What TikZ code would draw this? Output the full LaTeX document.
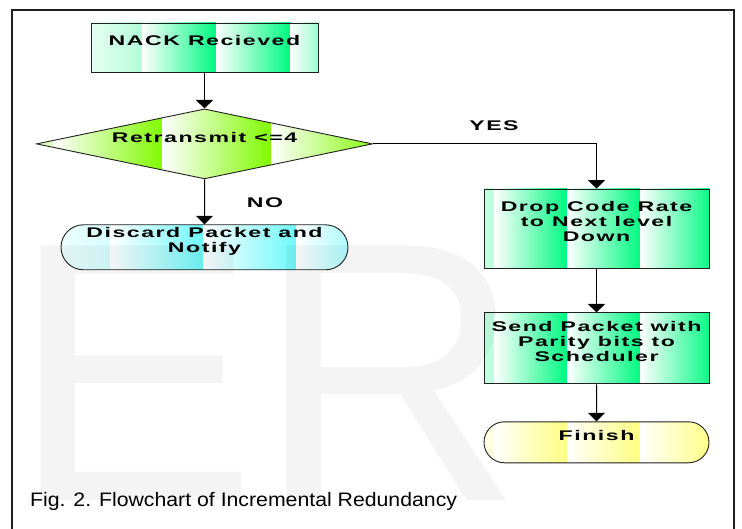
\documentclass[tikz,border=0pt]{standalone}
\usepackage{fontspec}
\setmainfont{Liberation Sans}
\newfontfamily\boxfont[FakeStretch=1.65,LetterSpace=11]{Liberation Sans}
\newfontfamily\capfont[FakeStretch=1.09]{Liberation Sans}
\usepackage{tikz}
\usetikzlibrary{arrows.meta,positioning,shapes.geometric,shapes.misc}
\definecolor{jade}{RGB}{0,250,128}
\definecolor{chart}{RGB}{128,250,0}
\definecolor{aqua}{RGB}{110,248,250}
\definecolor{butter}{RGB}{255,255,128}
\definecolor{ink}{HTML}{202020}
\newcommand{\lift}[1]{\raisebox{4.8pt}[\height][\depth]{\begin{tabular}{@{}c@{}}#1\end{tabular}}}
\tikzset{
  stripes/.style n args={3}{path picture={
    \foreach \k in {0,...,4}
      \shade[left color=white,right color=#1]
        ([xshift={#2+\k*#3}]path picture bounding box.south west) rectangle
        ([xshift={#2+(\k+1)*#3}]path picture bounding box.north west);
  }},
  box/.style={draw=ink,line width=0.9pt,inner sep=0pt,font=\boxfont\bfseries\fontsize{14}{15}\selectfont},
  proc/.style={box,rectangle,minimum width=225pt},
  dec/.style={box,diamond,aspect=4.8,minimum width=336pt,minimum height=70pt},
  term/.style={box,rounded rectangle},
  arr/.style={-{Triangle[length=8.5pt,width=17pt]},line width=1pt,color=black},
  lbl/.style={inner sep=0pt,font=\boxfont\bfseries\fontsize{14}{15}\selectfont},
}
\begin{document}
\begin{tikzpicture}[x=1pt,y=-1pt]
\useasboundingbox (0,0) rectangle (742,529);
\draw[line width=1.2pt,ink] (12,529) -- (12,10) -- (734,10) -- (734,529);
% left column
\node[proc,stripes={jade}{-23}{74},minimum width=227pt,minimum height=49pt] (nack) at (204.5,47.5) {\lift{NACK Recieved}};
\node[dec,stripes={chart}{-92}{109},below=36pt of nack] (retx) {\lift{Retransmit <=4}};
\node[term,stripes={aqua}{-44}{93},minimum width=287pt,minimum height=45pt,below=45pt of retx] (discard) {\lift{Discard Packet and\\Notify}};
% right column
\node[proc,stripes={jade}{-63}{73},minimum height=79pt] (drop) at (596.5,228.5) {\lift{Drop Code Rate\\to Next level\\Down}};
\node[proc,stripes={jade}{-63}{73},minimum height=71pt,below=44pt of drop] (send) {\lift{Send Packet with\\Parity bits to\\Scheduler}};
\node[term,stripes={butter}{-63}{73},minimum width=225pt,minimum height=41pt,below=37pt of send] (finish) {\lift{Finish}};
\draw[arr] (nack) -- (retx);
\draw[arr] (retx) -- (discard);
\draw[arr] (retx.east) -| (drop.north);
\draw[arr] (drop) -- (send);
\draw[arr] (send) -- (finish);
\node[lbl] (yes) at (494,125.5) {YES};
\node[lbl] (no) at (265,202.5) {NO};
\node[anchor=base west,inner sep=0pt,font=\capfont\fontsize{19.5}{22}\selectfont] (caption) at (30,506) {Fig. 2. Flowchart of Incremental Redundancy};
% watermark
\node[anchor=base west,inner sep=0pt,text=black,text opacity=0.045,font=\fontsize{370}{370}\selectfont] (wmark) at (10,500) {ER};
\end{tikzpicture}
\end{document}
